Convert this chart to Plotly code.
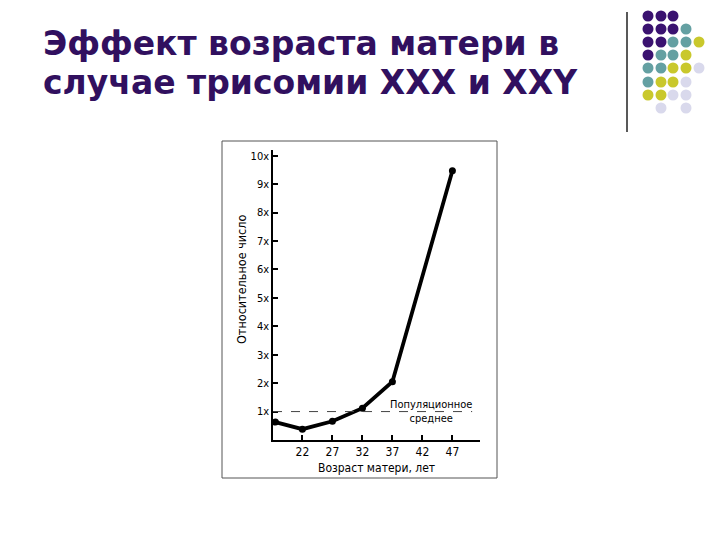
import plotly.graph_objects as go

# ---- data ----
ages = [17.5, 22, 27, 32, 37, 47]
relative_freq = [0.63, 0.38, 0.66, 1.12, 2.05, 9.47]
population_mean = 1
x_tick_vals = [22, 27, 32, 37, 42, 47]
x_tick_text = ["22", "27", "32", "37", "42", "47"]
y_tick_vals = [1, 2, 3, 4, 5, 6, 7, 8, 9, 10]
y_tick_text = ["1x", "2x", "3x", "4x", "5x", "6x", "7x", "8x", "9x", "10x"]

title_line1 = "Эффект возраста матери в"
title_line2 = "случае трисомии XXX и XXY"
x_title = "Возраст матери, лет"
y_title = "Относительное число"
mean_label = "Популяционное<br>среднее"

W, H = 720, 540
OFF = 8  # page body margin
def px(x):
    return (x - OFF) / W
def py(y):
    return 1 - (y - OFF) / H

NARROW = "Liberation Sans Narrow, DejaVu Sans Condensed, Arial Narrow, sans-serif"
TITLE_FONT = "DejaVu Sans, Arial, sans-serif"
TITLE_COLOR = "#31105f"

fig = go.Figure()
fig.add_trace(go.Scatter(
    x=ages, y=relative_freq, mode="lines+markers",
    line=dict(color="black", width=3.8),
    marker=dict(color="black", size=7),
    showlegend=False, hoverinfo="x+y",
))

shapes = []
# population mean dashed line
shapes.append(dict(type="line", xref="x domain", yref="y", x0=0, x1=0.962,
                   y0=population_mean, y1=population_mean,
                   line=dict(color="#444444", width=1, dash="dash")))
# chart frame
shapes.append(dict(type="rect", xref="paper", yref="paper",
                   x0=px(222), x1=px(497), y0=py(478), y1=py(141),
                   line=dict(color="#555555", width=1)))
# decorative vertical line
shapes.append(dict(type="line", xref="paper", yref="paper",
                   x0=px(627), x1=px(627), y0=py(12), y1=py(132),
                   line=dict(color="#222222", width=1.5)))
# decorative dot grid
dot_colors = {"P": "#3a1270", "T": "#64a0a2", "Y": "#c9c82c", "L": "#d9d9ec"}
dot_rows = ["PPP..", "PPPT.", "PPTTY", "PTTY.", "TTYYL", "TYYL.", "YYLL.", ".L.L."]
col_x = [648, 661, 673, 686, 699]
row_y = [16, 29, 42, 55, 68, 82, 95, 108]
r = 5.5
for ri, row in enumerate(dot_rows):
    for ci, ch in enumerate(row):
        if ch == ".":
            continue
        cx, cy = col_x[ci], row_y[ri]
        shapes.append(dict(type="circle", xref="paper", yref="paper",
                           x0=px(cx - r), x1=px(cx + r), y0=py(cy + r), y1=py(cy - r),
                           fillcolor=dot_colors[ch], line=dict(width=0)))

annotations = [
    dict(text=f"<b>{title_line1}</b>", xref="paper", yref="paper", x=px(41), y=py(22),
         xanchor="left", yanchor="top", showarrow=False,
         font=dict(family=TITLE_FONT, size=33, color=TITLE_COLOR)),
    dict(text=f"<b>{title_line2}</b>", xref="paper", yref="paper", x=px(41), y=py(61),
         xanchor="left", yanchor="top", showarrow=False,
         font=dict(family=TITLE_FONT, size=33, color=TITLE_COLOR)),
    dict(text=x_title, xref="paper", yref="paper", x=px(376), y=py(468),
         xanchor="center", yanchor="middle", showarrow=False,
         font=dict(family=NARROW, size=12, color="black")),
    dict(text=y_title, xref="paper", yref="paper", x=px(241), y=py(280),
         xanchor="center", yanchor="middle", showarrow=False, textangle=-90,
         font=dict(family=NARROW, size=12.5, color="black")),
    dict(text=mean_label, xref="paper", yref="paper", x=px(431), y=py(411),
         xanchor="center", yanchor="middle", showarrow=False,
         font=dict(family=NARROW, size=11, color="black")),
]

fig.update_layout(
    width=W, height=H,
    margin=dict(l=0, r=0, t=0, b=0),
    paper_bgcolor="white", plot_bgcolor="white",
    shapes=shapes, annotations=annotations,
    xaxis=dict(domain=[px(273), px(480)], range=[17.1, 51.6],
               tickvals=x_tick_vals, ticktext=x_tick_text,
               ticks="inside", ticklen=5, tickwidth=1.5, tickcolor="black",
               showline=True, linecolor="black", linewidth=1.5,
               showgrid=False, zeroline=False,
               tickfont=dict(family=NARROW, size=12, color="black")),
    yaxis=dict(domain=[py(440), py(150)], range=[0, 10.2],
               tickvals=y_tick_vals, ticktext=y_tick_text,
               ticks="inside", ticklen=5, tickwidth=1.5, tickcolor="black",
               showline=True, linecolor="black", linewidth=1.5,
               showgrid=False, zeroline=False,
               tickfont=dict(family=NARROW, size=11, color="black")),
)

fig.write_html("out.html")
